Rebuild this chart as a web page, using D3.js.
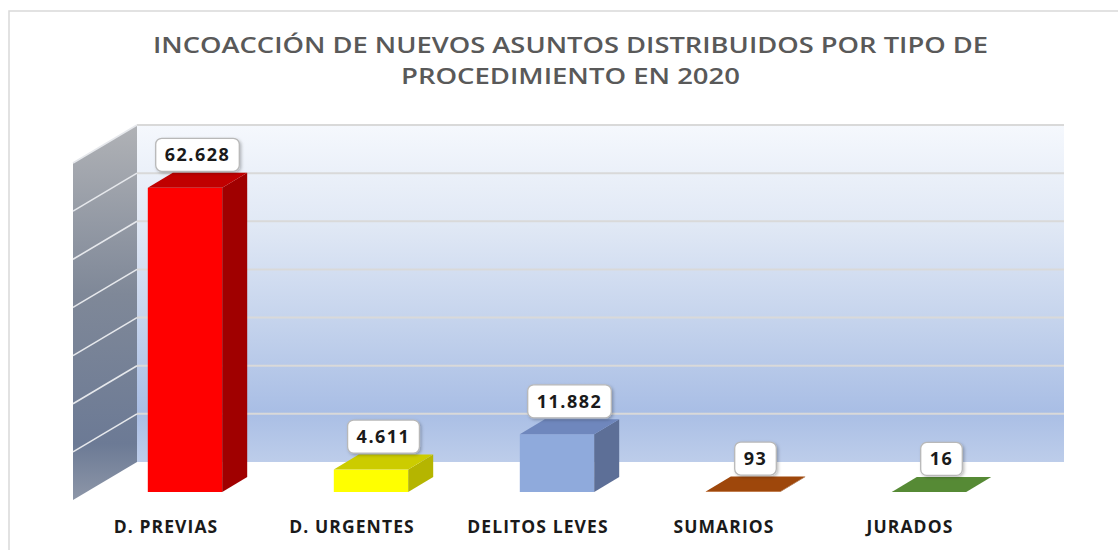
<!DOCTYPE html>
<html>
<head>
<meta charset="utf-8">
<script src="https://cdn.jsdelivr.net/npm/d3@7"></script>
<style>
    body { margin: 0; background: #ffffff; }
    .genText { font-family: "Open Sans", sans-serif; }
</style>
</head>
<body>
<div id="chart-area"></div>
<script>

// data
let categories = ["D. PREVIAS", "D. URGENTES", "DELITOS LEVES", "SUMARIOS", "JURADOS"];
let values = [62628, 4611, 11882, 93, 16];
let yTicks = [0, 10000, 20000, 30000, 40000, 50000, 60000, 70000];
let titleLines = ["INCOACCIÓN DE NUEVOS ASUNTOS DISTRIBUIDOS POR TIPO DE", "PROCEDIMIENTO EN 2020"];

// colors per bar: front, side, top
let frontColors = ["#ff0000", "#ffff00", "#8faadc", "#c55a11", "#70ad47"];
let sideColors = ["#a00000", "#b5b500", "#5d6f97", "#8a3f0c", "#4e7a32"];
let topColors = ["#c00000", "#cccc00", "#6f87bd", "#9e470b", "#568a35"];

let width = 1118, height = 550;

// spanish number format 62.628
let esLocale = d3.formatLocale({decimal: ",", thousands: ".", grouping: [3], currency: ["", " €"]});
let formatNum = esLocale.format(",d");

let svg = d3.select("#chart-area").append("svg")
    .attr("width", width)
    .attr("height", height);

let defs = svg.append("defs");

// back wall gradient
let wallGrad = defs.append("linearGradient")
    .attr("id", "wallGrad")
    .attr("x1", 0).attr("y1", 0).attr("x2", 0).attr("y2", 1);
wallGrad.append("stop").attr("offset", "0%").attr("stop-color", "#f5f8fd");
wallGrad.append("stop").attr("offset", "30%").attr("stop-color", "#e0e8f5");
wallGrad.append("stop").attr("offset", "60%").attr("stop-color", "#c3d2ec");
wallGrad.append("stop").attr("offset", "85%").attr("stop-color", "#a9bee5");
wallGrad.append("stop").attr("offset", "100%").attr("stop-color", "#bdcdea");

// side wall gradient
let sideGrad = defs.append("linearGradient")
    .attr("id", "sideGrad")
    .attr("x1", 0).attr("y1", 0).attr("x2", 0).attr("y2", 1);
sideGrad.append("stop").attr("offset", "0%").attr("stop-color", "#b0b2b6");
sideGrad.append("stop").attr("offset", "45%").attr("stop-color", "#7f8898");
sideGrad.append("stop").attr("offset", "85%").attr("stop-color", "#6c7a95");
sideGrad.append("stop").attr("offset", "100%").attr("stop-color", "#8d96a8");

// label shadow
let shadow = defs.append("filter")
    .attr("id", "labelShadow")
    .attr("x", "-20%").attr("y", "-20%").attr("width", "150%").attr("height", "160%");
shadow.append("feDropShadow")
    .attr("dx", 1.5).attr("dy", 1.5).attr("stdDeviation", 1.5)
    .attr("flood-color", "#000").attr("flood-opacity", 0.25);

// outer chart border
svg.append("rect")
    .attr("x", 9)
    .attr("y", 11)
    .attr("width", width + 20)
    .attr("height", height + 20)
    .attr("fill", "none")
    .attr("stroke", "#d9d9d9")
    .attr("stroke-width", 1.5);

// title
svg.selectAll("text.title")
    .data(titleLines)
    .enter()
    .append("text")
    .attr("class", "title genText")
    .attr("x", 570.5)
    .attr("y", (d, i) => 53 + i * 31)
    .attr("text-anchor", "middle")
    .attr("textLength", (d, i) => i === 0 ? 835 : 339)
    .attr("lengthAdjust", "spacingAndGlyphs")
    .style("font-size", "21px")
    .style("font-weight", 600)
    .style("fill", "#595959")
    .text(d => d);

// 3d geometry
let wallLeft = 137, wallRight = 1064, wallFloor = 462;
let sideDx = 64, sideDy = 38;
let barFloor = 492, depthX = 25, depthY = 15;

// scales
let yWall = d3.scaleLinear()
    .domain([0, 70000])
    .range([wallFloor, 125]);

let hBar = d3.scaleLinear()
    .domain([0, 70000])
    .range([0, 340]);

let x = d3.scaleBand()
    .domain(categories)
    .range([92, 1022])
    .paddingInner(0.6)
    .paddingOuter(0.3);

// back wall
svg.append("rect")
    .attr("x", wallLeft)
    .attr("y", yWall(70000))
    .attr("width", wallRight - wallLeft)
    .attr("height", wallFloor - yWall(70000))
    .attr("fill", "url(#wallGrad)");

// left side wall
let sidePts = [
    [wallLeft - sideDx, wallFloor + sideDy],
    [wallLeft, wallFloor],
    [wallLeft, yWall(70000)],
    [wallLeft - sideDx, yWall(70000) + sideDy]
];
svg.append("polygon")
    .attr("points", sidePts.map(p => p.join(",")).join(" "))
    .attr("fill", "url(#sideGrad)");

// gridlines on back wall
svg.selectAll("line.grid-back")
    .data(yTicks)
    .enter()
    .append("line")
    .attr("class", "grid-back")
    .attr("x1", wallLeft)
    .attr("x2", wallRight)
    .attr("y1", d => yWall(d))
    .attr("y2", d => yWall(d))
    .attr("stroke", "#d9d9d9")
    .attr("stroke-width", d => d === 0 ? 0 : 2);

// gridlines on side wall
svg.selectAll("line.grid-side")
    .data(yTicks.filter(d => d > 0))
    .enter()
    .append("line")
    .attr("class", "grid-side")
    .attr("x1", wallLeft)
    .attr("x2", wallLeft - sideDx)
    .attr("y1", d => yWall(d))
    .attr("y2", d => yWall(d) + sideDy)
    .attr("stroke", "#e6e8ec")
    .attr("stroke-width", 1.6);

// bars
let bars = svg.selectAll("g.bar")
    .data(values)
    .enter()
    .append("g")
    .attr("class", "bar");

bars.append("rect")
    .attr("x", (d, i) => x(categories[i]))
    .attr("y", d => barFloor - hBar(d))
    .attr("width", x.bandwidth())
    .attr("height", d => hBar(d))
    .attr("fill", (d, i) => frontColors[i]);

bars.append("polygon")
    .attr("points", function(d, i) {
        let x0 = x(categories[i]) + x.bandwidth();
        let h = hBar(d);
        return [[x0, barFloor], [x0 + depthX, barFloor - depthY],
            [x0 + depthX, barFloor - depthY - h], [x0, barFloor - h]].map(p => p.join(",")).join(" ");
    })
    .attr("fill", (d, i) => sideColors[i]);

bars.append("polygon")
    .attr("points", function(d, i) {
        let x0 = x(categories[i]);
        let x1 = x0 + x.bandwidth();
        let yt = barFloor - hBar(d);
        return [[x0, yt], [x0 + depthX, yt - depthY], [x1 + depthX, yt - depthY], [x1, yt]]
            .map(p => p.join(",")).join(" ");
    })
    .attr("fill", (d, i) => topColors[i]);

// value labels
let labels = svg.selectAll("g.value-label")
    .data(values)
    .enter()
    .append("g")
    .attr("class", "value-label")
    .attr("transform", function(d, i) {
        let cx = x(categories[i]) + (x.bandwidth() + depthX) / 2;
        let bottom = barFloor - depthY - hBar(d) - 1;
        return `translate(${cx}, ${bottom - 17})`;
    });

labels.append("text")
    .attr("class", "genText")
    .attr("text-anchor", "middle")
    .attr("y", 6.5)
    .style("font-size", "18px")
    .style("font-weight", 700)
    .style("letter-spacing", "1.5px")
    .style("fill", "#1a1a1a")
    .text(d => formatNum(d));

labels.each(function() {
    let g = d3.select(this);
    let bb = g.select("text").node().getBBox();
    g.insert("rect", "text")
        .attr("x", bb.x - 9)
        .attr("y", -16.5)
        .attr("width", bb.width + 18)
        .attr("height", 33)
        .attr("rx", 6)
        .attr("fill", "#ffffff")
        .attr("stroke", "#b8b8b8")
        .attr("stroke-width", 1.3)
        .attr("filter", "url(#labelShadow)");
});

// category labels
svg.selectAll("text.cat-label")
    .data(categories)
    .enter()
    .append("text")
    .attr("class", "cat-label genText")
    .attr("x", d => x(d) + x.bandwidth() / 2 - 19)
    .attr("y", 533)
    .attr("text-anchor", "middle")
    .style("font-size", "17.5px")
    .style("font-weight", 700)
    .style("letter-spacing", "1.1px")
    .style("fill", "#1a1a1a")
    .text(d => d);

</script>
</body>
</html>
